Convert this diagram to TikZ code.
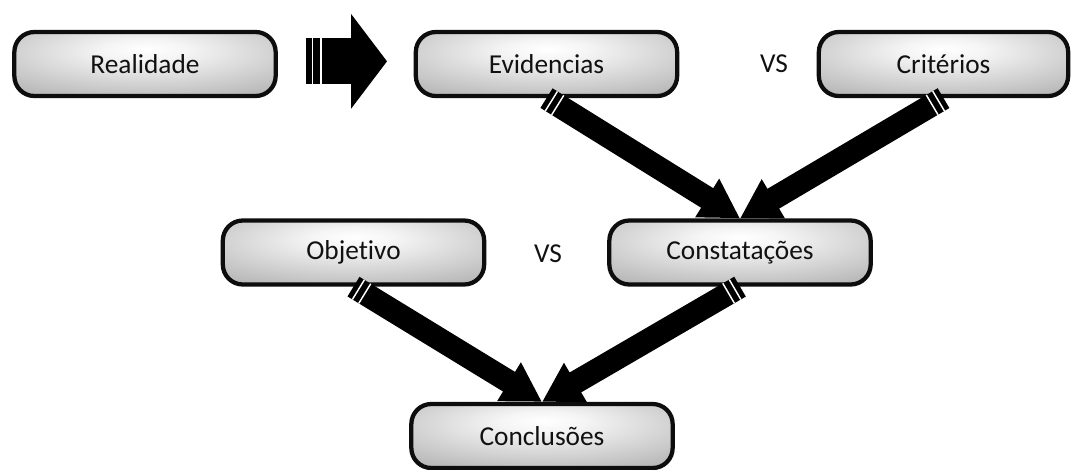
\documentclass[tikz,border=0pt]{standalone}
\usepackage{fontspec}
\setmainfont{Carlito}[Ligatures=NoCommon]
\usetikzlibrary{arrows.meta,positioning,calc}
\definecolor{boxedge}{HTML}{0D0D0D}
\definecolor{boxtext}{HTML}{111111}
\pgfdeclareradialshading{boxglow}{\pgfpoint{0bp}{12bp}}{color(0bp)=(white);color(8bp)=(white!96!black);color(42bp)=(black!32);color(100bp)=(black!32)}

\begin{document}
\begin{tikzpicture}[x=0.75pt,y=-0.75pt,
  stepbox/.style={draw=boxedge, line width=3.2pt, rounded corners=15pt, shade, shading=boxglow,
    minimum width=196pt, minimum height=48pt, text=boxtext, font=\fontsize{20.5}{24}\selectfont},
  vs/.style={text=boxtext, font=\fontsize{20.5}{24}\selectfont},
  flow/.style={line width=17.25pt, -{Triangle[length=29pt,width=32pt]},
    postaction={draw=white, -, dash pattern=on 0pt off 3.75pt on 1.1pt off 4.5pt on 1.1pt off 3000pt}},
  bigflow/.style={line width=34.5pt, -{Triangle[length=27pt,width=69.75pt]},
    postaction={draw=white, -, dash pattern=on 0pt off 4.5pt on 1.1pt off 5.25pt on 1.1pt off 3000pt}}]
\useasboundingbox (0,0) rectangle (1073,469);
% boxes
\node[stepbox] (real) at (145,64) {Realidade};
\node[stepbox] (evid) at (546.5,64) {Evidencias};
\node[vs] (vs1) at (774,64) {VS};
\node[stepbox, minimum width=187pt] (crit) at (943.5,64) {Critérios};
\node[stepbox] (obj) at (353.5,252.5) {Objetivo};
\node[vs] (vs2) at (548,254) {VS};
\node[stepbox] (const) at (740,252.5) {Constatações};
\node[stepbox] (conc) at (542,436) {Conclusões};
% arrows
\draw[bigflow] ([xshift=21pt,yshift=2pt]real.east) -- ([xshift=-20pt,yshift=2pt]evid.west);
\draw[flow] (evid.south) -- (const.north);
\draw[flow] (crit.south) -- (const.north);
\draw[flow] (obj.south) -- (conc.north);
\draw[flow] (const.south) -- (conc.north);
\end{tikzpicture}
\end{document}
